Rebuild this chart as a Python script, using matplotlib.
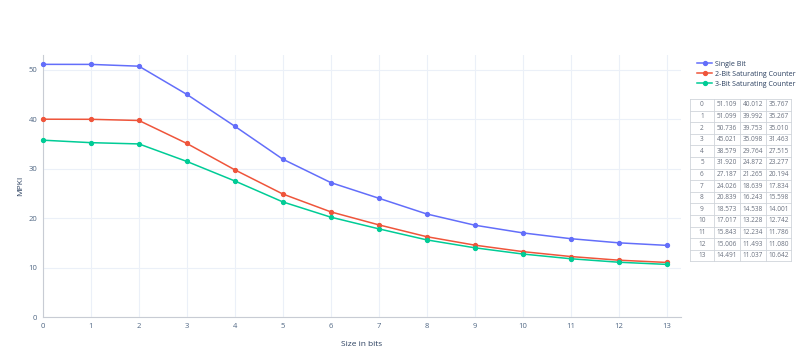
import matplotlib.pyplot as plt
import matplotlib.lines as mlines

plt.rcParams['font.family'] = ['Open Sans', 'DejaVu Sans']

bits = list(range(14))
single_bit = [51.109, 51.099, 50.736, 45.021, 38.579, 31.920, 27.187,
              24.026, 20.839, 18.573, 17.017, 15.843, 15.006, 14.491]
two_bit = [40.012, 39.992, 39.753, 35.098, 29.764, 24.872, 21.265,
           18.639, 16.243, 14.538, 13.228, 12.234, 11.493, 11.037]
three_bit = [35.767, 35.267, 35.010, 31.463, 27.515, 23.277, 20.194,
             17.834, 15.598, 14.001, 12.742, 11.786, 11.080, 10.642]
series_names = ['Single Bit', '2-Bit Saturating Counter', '3-Bit Saturating Counter']
colors = ['#636efa', '#EF553B', '#00cc96']

W, H = 800, 361
tick_col = '#506784'
grid_col = '#ebf0f8'

fig = plt.figure(figsize=(W / 100, H / 100), dpi=100)
ax = fig.add_axes([43 / W, (H - 317) / H, (681 - 43) / W, (317 - 55) / H])

for ys, name, c in zip([single_bit, two_bit, three_bit], series_names, colors):
    ax.plot(bits, ys, color=c, lw=1.1, marker='o', ms=2.8, label=name,
            clip_on=False, zorder=3)

ax.set_xlim(0, 13.3)
ax.set_ylim(0, 53.0)
ax.set_xticks(bits)
ax.set_yticks([0, 10, 20, 30, 40, 50])
ax.grid(True, color=grid_col, lw=0.8)
ax.set_axisbelow(True)
for s in ['top', 'right']:
    ax.spines[s].set_visible(False)
for s in ['left', 'bottom']:
    ax.spines[s].set_color('#c8ccd4')
    ax.spines[s].set_linewidth(0.8)
ax.tick_params(length=0, labelsize=5.5, colors=tick_col, pad=4)
ax.set_xlabel('Size in bits', fontsize=6, color='#2a3f5f', labelpad=8)
ax.set_ylabel('MPKI', fontsize=6, color='#2a3f5f', labelpad=3)

# legend
handles = [mlines.Line2D([], [], color=c, lw=1.1, marker='o', ms=2.8) for c in colors]
fig.legend(handles, series_names, loc='upper left',
           bbox_to_anchor=(694 / W, 1 - 58 / H), frameon=False,
           fontsize=5.1, labelcolor='#2a3f5f', handlelength=2.2,
           handletextpad=0.4, labelspacing=0.4, borderaxespad=0)

# data table
col_x = [690, 714, 740, 766, 791]
top, row_h = 99, 11.6
tab = fig.add_axes([0, 0, 1, 1], facecolor='none')
tab.set_xlim(0, W)
tab.set_ylim(H, 0)
tab.axis('off')
rows = list(zip(bits, single_bit, two_bit, three_bit))
n = len(rows)
for i in range(n + 1):
    y = top + i * row_h
    tab.plot([col_x[0], col_x[-1]], [y, y], color='#d0d4da', lw=0.6)
for x in col_x:
    tab.plot([x, x], [top, top + n * row_h], color='#d0d4da', lw=0.6)
for i, r in enumerate(rows):
    y = top + (i + 0.5) * row_h
    vals = [str(r[0])] + ['%.3f' % v for v in r[1:]]
    for j, v in enumerate(vals):
        tab.text((col_x[j] + col_x[j + 1]) / 2, y, v, ha='center', va='center',
                 fontsize=4.7, color='#6b7280')

fig.savefig('out.png', dpi=100)
